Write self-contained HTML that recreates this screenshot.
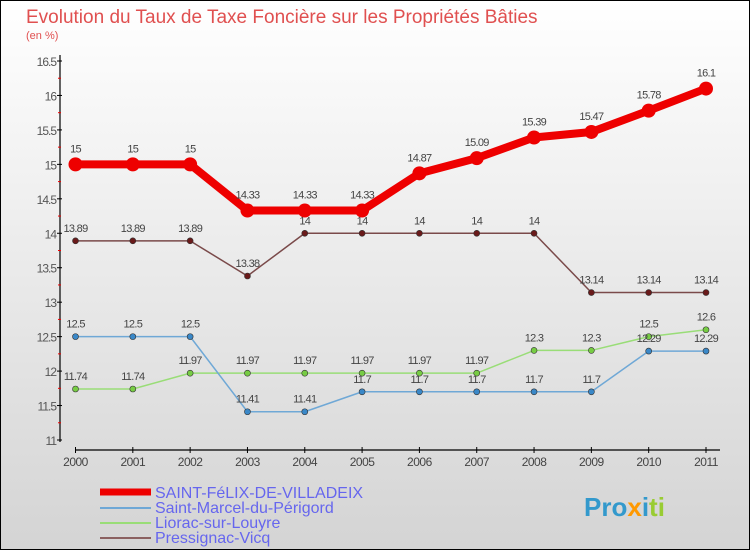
<!DOCTYPE html>
<html><head><meta charset="utf-8"><style>
body{margin:0}
#c{position:relative;width:750px;height:550px;overflow:hidden}
svg text{font-family:"Liberation Sans",sans-serif}
</style></head><body>
<div id="c">
<svg id="s" width="750" height="550" xmlns="http://www.w3.org/2000/svg">
<defs><linearGradient id="bg" x1="0" y1="0" x2="0" y2="1"><stop offset="0" stop-color="#ffffff"/><stop offset="1" stop-color="#d4d4d4"/></linearGradient></defs>
<rect x="0.5" y="0.5" width="749" height="549" fill="url(#bg)" stroke="#000"/>
<text x="26" y="23" font-size="19" fill="#e05050">Evolution du Taux de Taxe Foncière sur les Propriétés Bâties</text>
<text x="26" y="39" font-size="11" fill="#e05050">(en %)</text>
<g id="axes"></g><g id="series"></g>
<g>
<line x1="100" y1="492" x2="151" y2="492" stroke="#ee0000" stroke-width="7"/>
<text x="155" y="498" font-size="16" fill="#6666ee">SAINT-FéLIX-DE-VILLADEIX</text>
<line x1="100" y1="508" x2="151" y2="508" stroke="#6fa8d6" stroke-width="2"/>
<text x="155" y="513" font-size="16" fill="#6666ee">Saint-Marcel-du-Périgord</text>
<line x1="100" y1="523" x2="151" y2="523" stroke="#99dd77" stroke-width="2"/>
<text x="155" y="528" font-size="16" fill="#6666ee">Liorac-sur-Louyre</text>
<line x1="100" y1="538" x2="151" y2="538" stroke="#8a6060" stroke-width="2"/>
<text x="155" y="543" font-size="16" fill="#6666ee">Pressignac-Vicq</text>
</g>
<text x="584" y="516" font-size="26" font-weight="bold"><tspan fill="#3399cc">Pro</tspan><tspan fill="#ff9900">x</tspan><tspan fill="#3399cc">i</tspan><tspan fill="#99cc33">ti</tspan></text>
</svg>
</div>
<script>
const years=[2000,2001,2002,2003,2004,2005,2006,2007,2008,2009,2010,2011];
const yTicks=[11,11.5,12,12.5,13,13.5,14,14.5,15,15.5,16,16.5];
const saintFelix=[15,15,15,14.33,14.33,14.33,14.87,15.09,15.39,15.47,15.78,16.1];
const saintMarcel=[12.5,12.5,12.5,11.41,11.41,11.7,11.7,11.7,11.7,11.7,12.29,12.29];
const liorac=[11.74,11.74,11.97,11.97,11.97,11.97,11.97,11.97,12.3,12.3,12.5,12.6];
const pressignac=[13.89,13.89,13.89,13.38,14,14,14,14,14,13.14,13.14,13.14];
const NS="http://www.w3.org/2000/svg";
const xs=i=>75.5+i*(706-75.5)/11;
const ys=v=>440-(v-11)*(440-61)/5.5;
function mk(t,a,p){const e=document.createElementNS(NS,t);for(const k in a)e.setAttribute(k,a[k]);p.appendChild(e);return e;}
const ax=document.getElementById('axes');
let yl=mk('line',{x1:60,y1:55,x2:60,y2:442,stroke:'#000','stroke-width':1.2},ax);


let xl=mk('line',{x1:75,y1:450,x2:720,y2:450,stroke:'#000','stroke-width':1.2},ax);


yTicks.forEach(v=>{
 const y=ys(v);
 mk('line',{x1:57,y1:y,x2:62,y2:y,stroke:'#000'},ax);
 if(v<16.5) mk('line',{x1:58,y1:ys(v+0.25),x2:61,y2:ys(v+0.25),stroke:'#e00'},ax);
 const t=mk('text',{x:56,y:y+5,'font-size':12,fill:'#555','text-anchor':'end','letter-spacing':'-1'},ax);
 t.textContent=v;
 
 
});
years.forEach((yr,i)=>{
 const x=xs(i);
 mk('line',{x1:x,y1:447,x2:x,y2:453,stroke:'#000'},ax);
 const t=mk('text',{x:x,y:466,'font-size':12,fill:'#444','text-anchor':'middle','letter-spacing':'-0.5'},ax);
 t.textContent=yr;
 
 
});
const sg=document.getElementById('series');
function series(vals,color,w,r,name,dotFill){
 const g=mk('g',{},sg);
 
 
 mk('polyline',{points:vals.map((v,i)=>xs(i)+','+ys(v)).join(' '),fill:'none',stroke:color,'stroke-width':w,'stroke-linejoin':'round'},g);
 vals.forEach((v,i)=>{
  const c=mk('circle',{cx:xs(i),cy:ys(v),r:r,fill:dotFill,stroke:'#333','stroke-width':r>5?0:0.6},g);
  
  
  const t=mk('text',{x:xs(i),y:ys(v)-9-(r>5?3:0),'font-size':11,fill:'#444','text-anchor':'middle','letter-spacing':'-0.7'},g);
  t.textContent=v;
  
  
 });
}
series(pressignac,'#7a4a4a',1.5,3,'series-pressignac','#6a1a1a');
series(liorac,'#99dd77',1.5,3,'series-liorac','#77cc44');
series(saintMarcel,'#6fa8d6',1.5,3,'series-saint-marcel','#3a88c8');
series(saintFelix,'#ee0000',8,7,'series-saint-felix','#ee0000');
</script>
</body></html>
